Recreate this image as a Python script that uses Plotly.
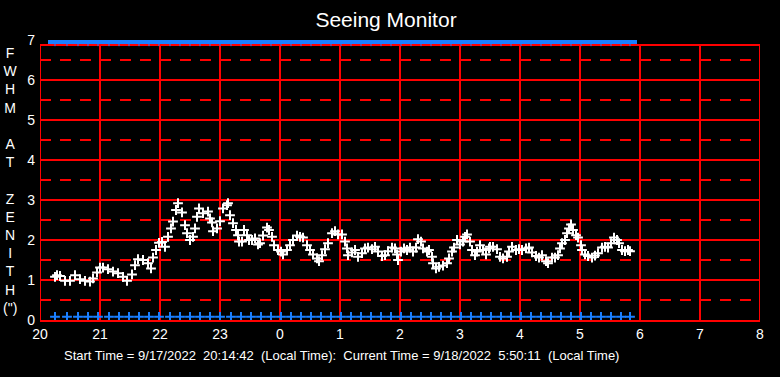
import plotly.graph_objects as go

# FWHM seeing samples: minutes after 20:00 local time, and FWHM (arcsec)
minutes = [15,17,20,25,30,35,40,45,50,53,57,60,63,68,73,78,83,87,92,95,
           98,103,108,111,113,116,119,122,125,128,131,133,136,138,142,145,147,150,153,155,
           157,159,
           163,168,170,172,173,177,180,183,187,188,190,193,196,198,199,202,204,207,209,212,
           215,218,220,223,227,229,232,234,238,241,243,247,250,253,257,260,263,267,270,273,
           277,279,282,285,288,292,295,298,302,
           305,307,308,312,315,318,322,325,328,332,335,338,342,345,348,352,355,357,358,361,
           364,367,370,373,376,378,381,383,387,389,392,393,396,399,403,407,409,412,414,417,
           420,423,425,427,430,432,435,437,440,443,446,449,
           450,453,457,460,463,467,469,472,476,479,482,486,489,492,496,499,502,506,508,512,
           515,518,520,522,525,527,529,531,533,536,538,541,542,545,548,552,555,558,562,565,
           568,571,574,577,579,582,585,588,590]
fwhm = [1.08,1.12,1.10,0.98,0.98,1.12,1.02,0.98,0.96,1.04,1.19,1.31,1.31,1.27,1.21,1.17,1.08,0.98,1.14,1.37,
        1.52,1.50,1.42,1.29,1.56,1.75,1.93,1.95,1.83,2.08,2.29,2.46,2.75,2.92,2.69,2.37,2.17,2.00,2.08,2.29,
        2.58,2.79,
        2.67,2.71,2.54,2.44,2.22,2.29,2.47,2.79,2.87,2.92,2.62,2.42,2.25,2.12,1.96,1.96,2.25,2.12,2.00,2.00,
        2.04,1.89,1.92,2.11,2.31,2.25,2.08,1.87,1.75,1.71,1.64,1.75,1.87,2.00,2.11,2.08,2.06,1.87,1.75,1.64,
        1.54,1.47,1.62,1.77,1.92,2.17,2.22,2.14,2.14,
        1.96,1.79,1.62,1.69,1.75,1.58,1.67,1.79,1.81,1.77,1.83,1.71,1.60,1.62,1.72,1.81,1.79,1.64,1.50,1.71,
        1.79,1.75,1.81,1.71,1.81,2.02,1.96,1.79,1.71,1.75,1.58,1.42,1.29,1.33,1.36,1.42,1.54,1.71,1.81,2.00,
        1.89,1.96,2.08,2.14,1.96,1.75,1.62,1.71,1.87,1.75,1.64,1.79,
        1.83,1.83,1.77,1.58,1.54,1.58,1.71,1.83,1.75,1.77,1.75,1.79,1.81,1.69,1.60,1.56,1.62,1.47,1.42,1.56,
        1.56,1.62,1.79,1.92,2.00,2.17,2.29,2.39,2.25,2.12,2.06,1.87,1.75,1.64,1.60,1.56,1.61,1.67,1.81,1.83,
        1.81,1.92,2.06,2.00,1.92,1.75,1.72,1.75,1.72]

# status markers (blue rows), minutes after 20:00
status_minutes = [15,27,38,48,58,69,79,89,99,109,119,130,140,150,160,170,180,191,201,211,
                  221,231,241,251,261,271,281,291,301,311,321,331,341,351,361,371,381,391,401,411,
                  421,431,441,451,461,471,481,491,501,511,521,531,541,551,561,571,581,590]
top_level = 6.95
bottom_level = 0.08

hour_ticks = [20,21,22,23,24,25,26,27,28,29,30,31,32]
hour_labels = ["20","21","22","23","0","1","2","3","4","5","6","7","8"]
y_ticks = [0,1,2,3,4,5,6,7]
grid_solid = [1,2,3,4,5,6]
grid_dashed = [0.5,1.5,2.5,3.5,4.5,5.5,6.5]
frame_top = 6.875

title_text = "Seeing Monitor"
ylabel_letters = ["F","W","H","M"," ","A","T"," ","Z","E","N","I","T","H","(\")"]
footer = "Start Time = 9/17/2022  20:14:42  (Local Time):  Current Time = 9/18/2022  5:50:11  (Local Time)"

hours = [20 + m / 60 for m in minutes]
status_hours = [20 + m / 60 for m in status_minutes]

RED = "#FF0000"
BLUE = "#1A7FFF"
FONT = "Arial, Liberation Sans, sans-serif"
W, H = 780, 377
L, R, T, B = 40, 20, 40, 57
PW = W - L - R

fig = go.Figure()
fig.add_trace(go.Scatter(
    x=status_hours, y=[top_level] * len(status_hours), mode="markers",
    marker=dict(symbol="line-ew", size=10, line=dict(color=BLUE, width=4)),
    hoverinfo="skip", showlegend=False))
fig.add_trace(go.Scatter(
    x=status_hours, y=[top_level] * len(status_hours), mode="markers",
    marker=dict(symbol="cross-thin", size=6, line=dict(color=BLUE, width=1)),
    hoverinfo="skip", showlegend=False))
fig.add_trace(go.Scatter(
    x=status_hours, y=[bottom_level] * len(status_hours), mode="markers",
    marker=dict(symbol="cross-thin", size=7, line=dict(color=BLUE, width=2)),
    cliponaxis=False, hoverinfo="skip", showlegend=False))
fig.add_trace(go.Scatter(
    x=hours, y=fwhm, mode="markers",
    marker=dict(symbol="cross-thin", size=7, line=dict(color="white", width=2)),
    showlegend=False))

# grid / frame built from the tick lists
shapes = []
for yv in grid_dashed:
    shapes.append(dict(type="line", xref="x", yref="y", x0=hour_ticks[0], x1=hour_ticks[-1],
                       y0=yv, y1=yv, layer="below",
                       line=dict(color=RED, width=2, dash="11px,9px")))
for yv in grid_solid + [frame_top]:
    shapes.append(dict(type="line", xref="x", yref="y", x0=hour_ticks[0], x1=hour_ticks[-1],
                       y0=yv, y1=yv, layer="below", line=dict(color=RED, width=2)))
for xv in hour_ticks:
    shapes.append(dict(type="line", xref="x", yref="y", x0=xv, x1=xv,
                       y0=0, y1=frame_top, layer="below", line=dict(color=RED, width=2)))

fig.update_layout(
    width=W, height=H,
    paper_bgcolor="black", plot_bgcolor="black",
    margin=dict(l=L, r=R, t=T, b=B, autoexpand=False),
    font=dict(family=FONT, color="white", size=14),
    title=dict(text=title_text, x=386 / W, xanchor="center", xref="container",
               y=1 - 20 / H, yanchor="middle", yref="container",
               font=dict(size=21, color="white", family=FONT)),
    xaxis=dict(range=[20, 32], tickvals=hour_ticks, ticktext=hour_labels,
               showgrid=False, zeroline=False,
               showline=True, linecolor=RED, linewidth=2, mirror=False,
               ticks="", tickfont=dict(size=14, color="white")),
    yaxis=dict(range=[0, 7], tickvals=y_ticks,
               showgrid=False, zeroline=False, showline=False,
               ticks="", ticklabelstandoff=4, tickfont=dict(size=14, color="white")),
    shapes=shapes,
)

fig.add_annotation(x=(10 - L) / PW, xref="paper", y=(H - B - 180) / (H - T - B), yref="paper",
                   text="<br>".join(ylabel_letters), showarrow=False,
                   xanchor="center", yanchor="middle", align="center",
                   font=dict(size=14, color="white", family=FONT))
fig.add_annotation(x=(62 - L) / PW, xref="paper", y=(H - B - 355) / (H - T - B), yref="paper",
                   text=footer, showarrow=False, xanchor="left", yanchor="middle",
                   font=dict(size=13, color="white", family=FONT))

fig.write_html("out.html", config={"displayModeBar": False},
               post_script="document.body.style.margin='0';document.body.style.overflow='hidden';")
